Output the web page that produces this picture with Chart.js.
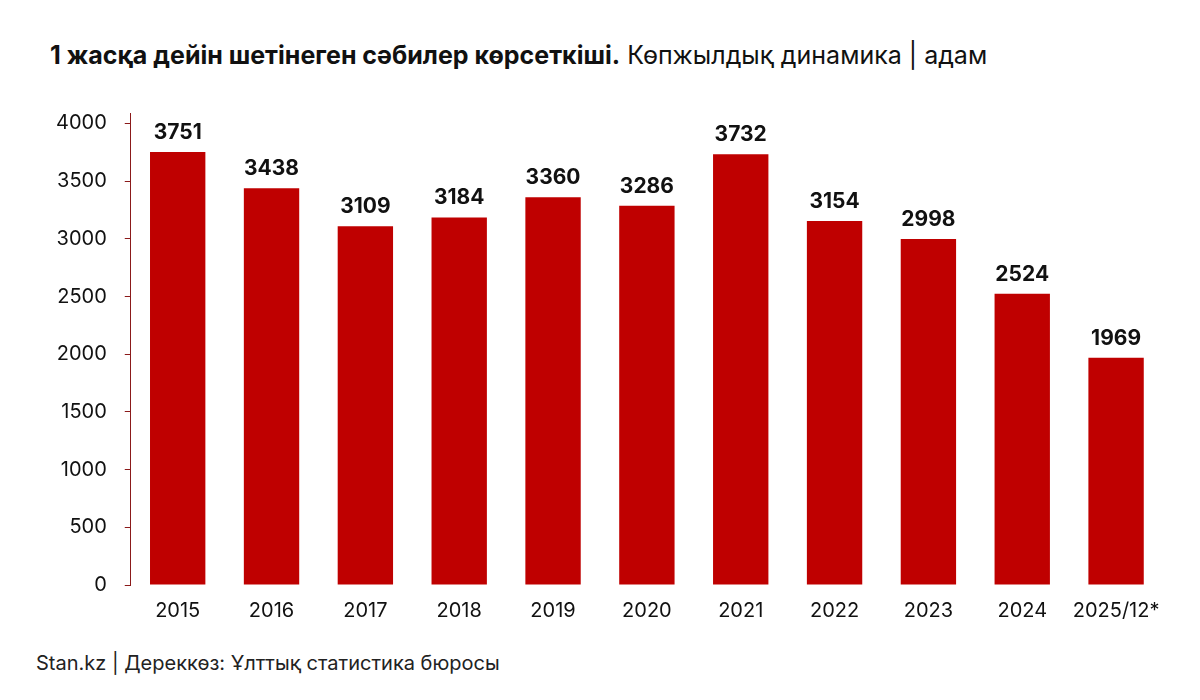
<!DOCTYPE html>
<html>
<head>
<meta charset="utf-8">
<script src="https://cdn.jsdelivr.net/npm/chart.js@4"></script>
<style>
  body { margin: 0; background: #fff; font-family: Inter, sans-serif; }
  #title { position: absolute; left: 50px; top: 40px; font-size: 25px; color: #111; }
  #title b { font-weight: 700; }
  #wrap { position: absolute; left: 38px; top: 83px; width: 1140px; height: 546px; }
  #foot { position: absolute; left: 36px; top: 651px; font-size: 20px; color: #222; }
</style>
</head>
<body>
<div id="title"><b>1 жасқа дейін шетінеген сәбилер көрсеткіші.</b> Көпжылдық динамика | адам</div>
<div id="wrap"><canvas id="c"></canvas></div>
<div id="foot">Stan.kz | Дереккөз: Ұлттық статистика бюросы</div>
<script>
const years = ['2015', '2016', '2017', '2018', '2019', '2020', '2021', '2022', '2023', '2024', '2025/12*'];
const deaths = [3751, 3438, 3109, 3184, 3360, 3286, 3732, 3154, 2998, 2524, 1969];
const yTicks = [0, 500, 1000, 1500, 2000, 2500, 3000, 3500, 4000];

// value labels above bars
const topLabels = {
  id: 'topLabels',
  afterDatasetsDraw(chart) {
    const ctx = chart.ctx;
    const meta = chart.getDatasetMeta(0);
    ctx.save();
    ctx.font = 'bold 21px Inter';
    ctx.fillStyle = '#111';
    ctx.textAlign = 'center';
    ctx.textBaseline = 'bottom';
    meta.data.forEach((bar, i) => {
      ctx.fillText(deaths[i], bar.x, bar.y - 9);
    });
    ctx.restore();
  }
};

new Chart(document.getElementById('c'), {
  type: 'bar',
  data: {
    labels: years,
    datasets: [{ data: deaths, backgroundColor: '#bf0000', barPercentage: 0.59, categoryPercentage: 1 }]
  },
  options: {
    responsive: true,
    maintainAspectRatio: false,
    animation: false,
    layout: { padding: { top: 0, right: 15 } },
    plugins: { legend: { display: false }, tooltip: { enabled: false } },
    scales: {
      x: {
        grid: { display: false },
        border: { display: false },
        ticks: { color: '#111', font: { family: 'Inter', size: 20 }, padding: 6 }
      },
      y: {
        min: 0, max: 4090,
        afterBuildTicks: (s) => { s.ticks = yTicks.map(v => ({ value: v })); },
        grid: { drawOnChartArea: false, color: '#8b1a1a', tickLength: 6 },
        border: { color: '#8b1a1a', width: 1 },
        ticks: { color: '#111', font: { family: 'Inter', size: 20 }, padding: 18, callback: (v) => String(v) }
      }
    }
  },
  plugins: [topLabels]
});
</script>
</body>
</html>
